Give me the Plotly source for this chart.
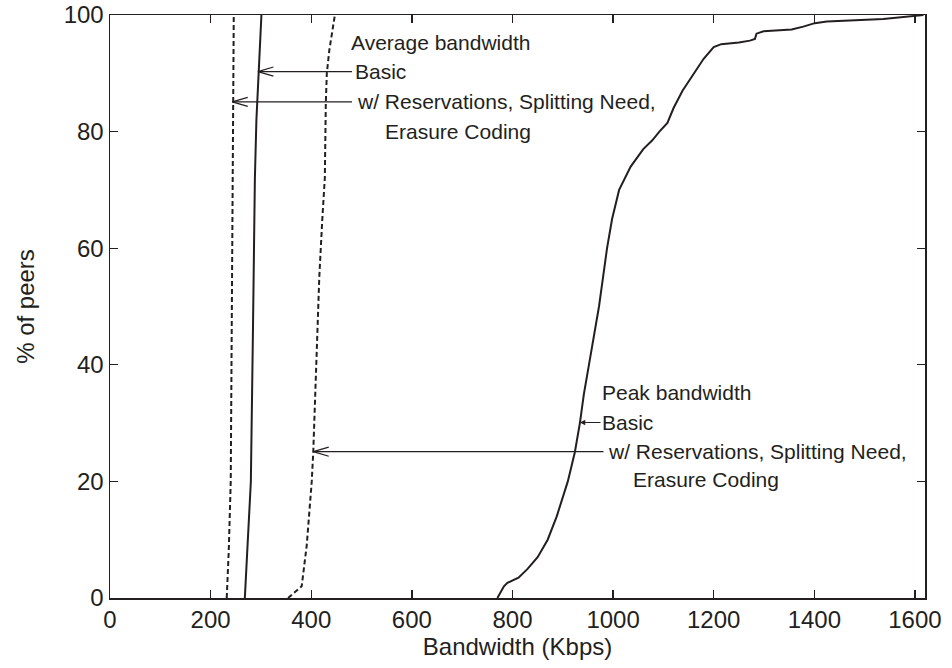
import plotly.graph_objects as go

# ---- data (Kbps vs % of peers) ----
avg_basic_x = [268, 272, 277, 280, 284, 288, 291, 295, 298, 301]
avg_basic_y = [0, 7, 14, 20, 45, 72, 82, 90, 96, 100]

avg_res_x = [232, 236, 240, 242, 243, 244, 246]
avg_res_y = [0, 8, 20, 45, 72, 85, 100]

peak_basic_x = [770, 776, 783, 790, 800, 812, 830, 850, 870, 888, 910, 924, 934, 942,
                952, 962, 972, 980, 988, 998, 1012, 1035, 1060, 1078, 1092, 1108, 1120,
                1138, 1160, 1180, 1200, 1215, 1250, 1272, 1282, 1285, 1299, 1355, 1378,
                1388, 1401, 1425, 1537, 1617]
peak_basic_y = [0, 1, 2, 2.6, 3, 3.5, 5, 7, 10, 14, 20, 25, 30, 35,
                40, 45, 50, 55, 60, 65, 70, 74, 77, 78.5, 80, 81.5, 84,
                87, 90, 92.5, 94.5, 95, 95.3, 95.6, 95.9, 96.8, 97.2, 97.5, 98,
                98.3, 98.6, 98.9, 99.3, 100]

peak_res_x = [354, 381, 391, 401, 404, 410, 416, 422, 427, 429, 431, 436, 441, 447]
peak_res_y = [0, 2, 9, 20, 25, 40, 55, 65, 72, 85, 90, 94, 97, 100]

x_ticks = [0, 200, 400, 600, 800, 1000, 1200, 1400, 1600]
y_ticks = [0, 20, 40, 60, 80, 100]

FONT = "Liberation Sans, Arial, Helvetica, sans-serif"
INK = "#231f20"

fig = go.Figure()
solid = dict(color=INK, width=2)
dashed = dict(color=INK, width=2, dash="5px,3px")
fig.add_trace(go.Scatter(x=avg_res_x, y=avg_res_y, mode="lines", line=dashed, showlegend=False))
fig.add_trace(go.Scatter(x=avg_basic_x, y=avg_basic_y, mode="lines", line=solid, showlegend=False))
fig.add_trace(go.Scatter(x=peak_res_x, y=peak_res_y, mode="lines", line=dashed, showlegend=False))
fig.add_trace(go.Scatter(x=peak_basic_x, y=peak_basic_y, mode="lines", line=solid, showlegend=False))

ann_font = dict(family=FONT, size=21, color=INK)

def text(x, y, s):
    fig.add_annotation(x=x, y=y, text=s, showarrow=False, xanchor="left",
                       yanchor="middle", font=ann_font, xref="x", yref="y")

def line_ann(x1, y, **kw):
    fig.add_annotation(x=x1, y=y, xref="x", yref="y", text="", showarrow=True,
                       arrowwidth=1.2, arrowcolor=INK, standoff=0, startstandoff=0, **kw)

def open_arrow(x0, x1, y):
    # shaft
    line_ann(x1, y, ax=x0, ay=y, axref="x", ayref="y", arrowhead=0)
    # open chevron head: two arms
    line_ann(x1, y, ax=17, ay=-5, arrowhead=0)
    line_ann(x1, y, ax=17, ay=5, arrowhead=0)

def small_arrow(x0, x1, y):
    line_ann(x1, y, ax=x0, ay=y, axref="x", ayref="y", arrowhead=2, arrowsize=0.9)

# Average bandwidth labels
text(476, 95.2, "Average bandwidth")
text(483, 90.3, "Basic")
open_arrow(484, 294, 90.3)
text(487, 85.1, "w/ Reservations, Splitting Need,")
open_arrow(484, 243, 85.1)
text(543, 80.1, "Erasure Coding")

# Peak bandwidth labels
text(974, 35.2, "Peak bandwidth")
text(974, 30.1, "Basic")
small_arrow(978, 934, 30.1)
text(986, 25.1, "w/ Reservations, Splitting Need,")
open_arrow(984, 404, 25.1)
text(1036, 20.3, "Erasure Coding")

axis_common = dict(showline=True, linecolor=INK, linewidth=1.5, mirror="ticks",
                   ticks="inside", ticklen=8, tickwidth=1.3, tickcolor=INK,
                   showgrid=False, zeroline=False, automargin=False,
                   tickfont=dict(family=FONT, size=24, color=INK))

fig.update_layout(
    width=952, height=668,
    margin=dict(l=110, r=27, t=15, b=70),
    paper_bgcolor="white", plot_bgcolor="white",
    hovermode=False,
    xaxis=dict(range=[0, 1620], tickvals=x_ticks,
               title=dict(text="Bandwidth (Kbps)", font=dict(family=FONT, size=24, color=INK), standoff=6),
               **axis_common),
    yaxis=dict(range=[0, 100], tickvals=y_ticks,
               title=dict(text="% of peers", font=dict(family=FONT, size=24, color=INK), standoff=22),
               **axis_common),
)

fig.write_html("out.html",
               config={"displayModeBar": False, "staticPlot": True},
               post_script="document.body.style.margin='0';document.body.style.overflow='hidden';")
